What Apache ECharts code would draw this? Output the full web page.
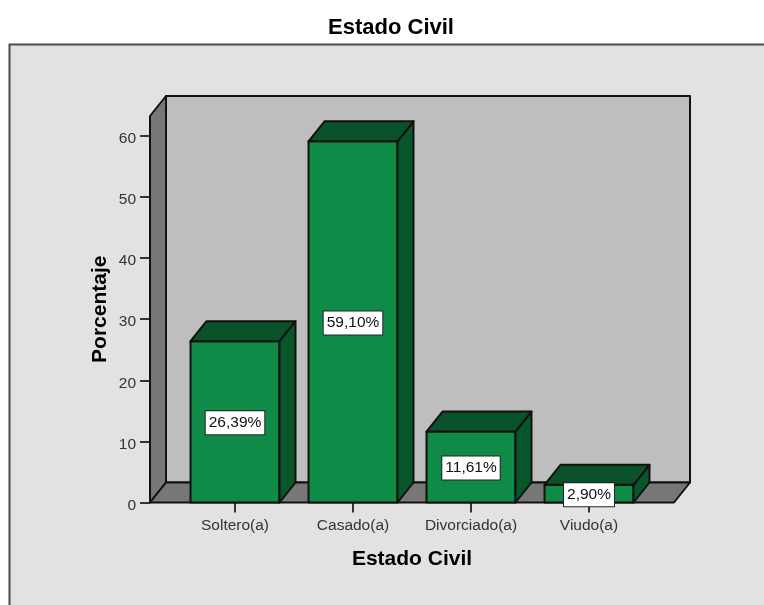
<!DOCTYPE html>
<html>
<head>
<meta charset="utf-8">
<style>html,body{margin:0;padding:0;background:#fff}#c{width:764px;height:605px}</style>
<script src="https://cdn.jsdelivr.net/npm/echarts@6/dist/echarts.min.js"></script>
</head>
<body>
<div id="c"></div>
<script>
const categories = ['Soltero(a)', 'Casado(a)', 'Divorciado(a)', 'Viudo(a)'];
const percentages = [26.39, 59.10, 11.61, 2.90];
const yTicks = [0, 10, 20, 30, 40, 50, 60];
const yTop = 63.25;

const font = '"Liberation Sans", Arial, sans-serif';
const depthX = 16, depthY = 20, sideInset = 26;
const outline = '#111';

function poly(points, fill) {
  return { type: 'polygon', shape: { points }, style: { fill, stroke: outline, lineWidth: 2, lineJoin: 'round' } };
}

function renderWalls(params, api) {
  const band = api.size([1, 0])[0];
  const [cx0, y0] = api.coord([0, 0]);
  const [, yT] = api.coord([0, yTop]);
  const xL = cx0 - band / 2 - sideInset;
  const xR = cx0 - band / 2 + band * categories.length + sideInset;
  return {
    type: 'group',
    children: [
      poly([[xL + depthX, yT - depthY], [xR + depthX, yT - depthY], [xR + depthX, y0 - depthY], [xL + depthX, y0 - depthY]], '#bebebe'),
      poly([[xL, yT], [xL + depthX, yT - depthY], [xL + depthX, y0 - depthY], [xL, y0]], '#777777'),
      poly([[xL, y0], [xL + depthX, y0 - depthY], [xR + depthX, y0 - depthY], [xR, y0]], '#777777')
    ]
  };
}

function renderBar(params, api) {
  const i = api.value(0), v = api.value(1);
  const [cx, yV] = api.coord([i, v]);
  const [, y0] = api.coord([i, 0]);
  const [, yMid] = api.coord([i, v / 2]);
  const hw = api.size([1, 0])[0] * 0.377;
  const l = cx - hw, r = cx + hw;
  return {
    type: 'group',
    children: [
      poly([[l, yV], [r, yV], [r, y0], [l, y0]], '#0f8b47'),
      poly([[r, yV], [r + depthX, yV - depthY], [r + depthX, y0 - depthY], [r, y0]], '#07572b'),
      poly([[l, yV], [l + depthX, yV - depthY], [r + depthX, yV - depthY], [r, yV]], '#0a5229'),
      {
        type: 'text', z2: 50,
        style: {
          x: cx, y: yMid + 1, align: 'center', verticalAlign: 'middle',
          text: v.toFixed(2).replace('.', ',') + '%',
          font: '15.5px ' + font, fill: '#111',
          backgroundColor: '#fff', borderColor: '#222', borderWidth: 1, padding: [4, 3, 3, 3]
        }
      }
    ]
  };
}

const chart = echarts.init(document.getElementById('c'), null, { renderer: 'canvas', width: 764, height: 605 });
chart.setOption({
  animation: false,
  backgroundColor: '#fff',
  title: {
    text: 'Estado Civil', left: 386, top: 12, textAlign: 'center',
    textStyle: { fontFamily: font, fontSize: 22, fontWeight: 'bold', color: '#000' }
  },
  graphic: [{
    type: 'rect', z: -10, silent: true,
    shape: { x: 9.5, y: 44.5, width: 800, height: 600 },
    style: { fill: '#e2e2e2', stroke: '#4a4a4a', lineWidth: 2 }
  }],
  grid: { left: 176, top: 116, width: 472, height: 386.5 },
  xAxis: {
    type: 'category', data: categories,
    name: 'Estado Civil', nameLocation: 'middle', nameGap: 46, nameMoveOverlap: false,
    nameTextStyle: { fontFamily: font, fontSize: 21, fontWeight: 'bold', color: '#000' },
    axisLine: { show: false },
    axisTick: { show: true, alignWithLabel: true, length: 10, lineStyle: { color: '#333', width: 2 } },
    axisLabel: { fontFamily: font, fontSize: 15.5, color: '#333', margin: 15, interval: 0 },
    splitLine: { show: false }
  },
  yAxis: {
    type: 'value', min: 0, max: yTop, offset: 26,
    name: 'Porcentaje', nameLocation: 'middle', nameGap: 39, nameRotate: 90, nameMoveOverlap: false,
    nameTextStyle: { fontFamily: font, fontSize: 21, fontWeight: 'bold', color: '#000' },
    axisLine: { show: false },
    axisTick: { show: true, length: 10, customValues: yTicks, lineStyle: { color: '#333', width: 2 } },
    axisLabel: { fontFamily: font, fontSize: 15.5, color: '#333', margin: 14, verticalAlign: 'top', lineHeight: 6, customValues: yTicks },
    splitLine: { show: false }
  },
  series: [
    { type: 'custom', name: 'walls', z: 1, silent: true, renderItem: renderWalls, data: [[0, 0]], clip: false },
    {
      type: 'custom', name: 'Porcentaje', z: 2, silent: true, renderItem: renderBar, clip: false,
      encode: { x: 0, y: 1 },
      data: percentages.map((v, i) => [i, v])
    }
  ]
});
</script>
</body>
</html>
